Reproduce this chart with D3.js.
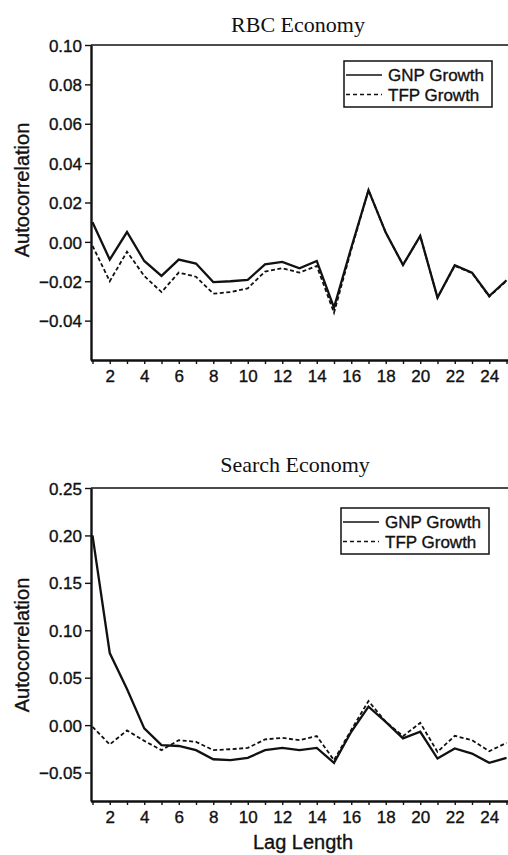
<!DOCTYPE html>
<html>
<head>
<meta charset="utf-8">
<script src="https://cdn.jsdelivr.net/npm/d3@7"></script>
<style>
  html, body { margin: 0; padding: 0; background: #fff; }
  svg { display: block; }
  .tick text { font-family: "Liberation Sans", Arial, sans-serif; font-size: 17px; fill: #111; stroke: #111; stroke-width: 0.35px; }
  .heavy { stroke: #111; stroke-width: 0.35px; }
</style>
</head>
<body>
<svg id="chart" width="508" height="855"></svg>
<script>
const lags = [1,2,3,4,5,6,7,8,9,10,11,12,13,14,15,16,17,18,19,20,21,22,23,24,25];
const lagLabels = [2,4,6,8,10,12,14,16,18,20,22,24];

const rbcGNP = [0.010,-0.009,0.005,-0.0097,-0.0173,-0.009,-0.011,-0.0204,-0.020,-0.0193,-0.0114,-0.0102,-0.0134,-0.0097,-0.0334,-0.003,0.0263,0.0047,-0.0117,0.003,-0.0283,-0.0119,-0.0156,-0.0275,-0.0195];
const rbcTFP = [-0.002,-0.020,-0.005,-0.0173,-0.0255,-0.0156,-0.0177,-0.0263,-0.0255,-0.0236,-0.0151,-0.0134,-0.0156,-0.0122,-0.036,-0.004,0.0263,0.0047,-0.0117,0.003,-0.0283,-0.0122,-0.0158,-0.0278,-0.0198];
const searchGNP = [0.200,0.076,0.038,-0.0035,-0.021,-0.022,-0.0264,-0.036,-0.037,-0.0345,-0.0264,-0.024,-0.0264,-0.024,-0.0398,-0.007,0.0194,0.0035,-0.014,-0.007,-0.0352,-0.0246,-0.030,-0.0398,-0.0345];
const searchTFP = [-0.0018,-0.0204,-0.0056,-0.0166,-0.0264,-0.0159,-0.0176,-0.0264,-0.0254,-0.024,-0.0151,-0.0134,-0.0159,-0.0116,-0.037,-0.005,0.0254,0.0035,-0.0116,0.0024,-0.0282,-0.0113,-0.0159,-0.0275,-0.0187];

const rbcTicks = [0.10,0.08,0.06,0.04,0.02,0.00,-0.02,-0.04];
const searchTicks = [0.25,0.20,0.15,0.10,0.05,0.00,-0.05];
const seriesNames = ["GNP Growth","TFP Growth"];

const svg = d3.select("#chart");
const FONT = '"Liberation Sans", Arial, sans-serif';
const SERIF = '"Liberation Serif", "Times New Roman", serif';

function panel(cfg) {
  const g = svg.append("g");
  const x = d3.scaleLinear().domain([1, 25]).range([92.5, 506.5]);
  const y = d3.scaleLinear().domain(cfg.domain).range([cfg.bottom, cfg.top]);
  const left = 91;

  g.append("text").attr("x", cfg.titleX).attr("y", cfg.titleY)
    .attr("text-anchor", "middle").attr("font-family", SERIF).attr("font-size", 22)
    .attr("fill", "#111").text(cfg.title);

  g.append("line").attr("x1", left).attr("x2", 508).attr("y1", cfg.top).attr("y2", cfg.top)
    .attr("stroke", "#111").attr("stroke-width", 1.6);

  const ya = g.append("g").attr("transform", `translate(${left},0)`)
    .call(d3.axisLeft(y).tickValues(cfg.ticks).tickFormat(d3.format(".2f")).tickSize(6).tickSizeOuter(0).tickPadding(3));
  ya.select(".domain").attr("stroke", "#111").attr("stroke-width", 2.4);
  ya.selectAll(".tick line").attr("stroke", "#111").attr("stroke-width", 1.4);
  ya.selectAll(".tick text").attr("dy", "0.36em");

  const xa = g.append("g").attr("transform", `translate(0,${cfg.bottom})`)
    .call(d3.axisBottom(x).tickValues(lags).tickFormat(d => lagLabels.includes(d) ? d : "").tickSize(4).tickSizeOuter(0));
  xa.select(".domain").attr("stroke", "#111").attr("stroke-width", 2.4)
    .attr("d", `M${left},0.5H508`);
  xa.selectAll(".tick line").attr("stroke", "#111").attr("stroke-width", 1.4);
  xa.selectAll(".tick text").attr("y", 22).attr("dy", 0);

  g.append("text").attr("class", "heavy").attr("transform", `translate(${cfg.ylabX},${cfg.ylabY}) rotate(-90)`)
    .attr("text-anchor", "middle").attr("font-family", FONT).attr("font-size", 20)
    .attr("fill", "#111").text("Autocorrelation");

  const line = d3.line().x((d, i) => x(lags[i])).y(d => y(d));
  g.append("path").datum(cfg.tfp).attr("d", line).attr("fill", "none")
    .attr("stroke", "#111").attr("stroke-width", 1.8).attr("stroke-dasharray", "4,2.5");
  g.append("path").datum(cfg.gnp).attr("d", line).attr("fill", "none")
    .attr("stroke", "#111").attr("stroke-width", 2.3);

  const L = cfg.legend;
  g.append("rect").attr("x", L.x).attr("y", L.y).attr("width", 148).attr("height", 46)
    .attr("fill", "#fff").attr("stroke", "#111").attr("stroke-width", 1.5);
  seriesNames.forEach((name, i) => {
    const by = L.y + 20 + i * 19.5;
    g.append("line").attr("x1", L.x + 2).attr("x2", L.x + 38)
      .attr("y1", by - 6).attr("y2", by - 6).attr("stroke", "#111")
      .attr("stroke-width", 1.5)
      .attr("stroke-dasharray", i === 0 ? null : "4,3");
    g.append("text").attr("class", "heavy").attr("x", L.x + 44).attr("y", by)
      .attr("font-family", FONT).attr("font-size", 17).attr("fill", "#111").text(name);
  });
}

panel({ title: "RBC Economy", titleX: 298, titleY: 32, top: 45, bottom: 360,
  domain: [-0.06, 0.10], ticks: rbcTicks, gnp: rbcGNP, tfp: rbcTFP,
  ylabX: 29, ylabY: 190, legend: { x: 344, y: 61 } });

panel({ title: "Search Economy", titleX: 295, titleY: 472, top: 488, bottom: 801,
  domain: [-0.08, 0.25], ticks: searchTicks, gnp: searchGNP, tfp: searchTFP,
  ylabX: 29, ylabY: 645, legend: { x: 341, y: 508 } });

svg.append("text").attr("class", "heavy").attr("x", 303).attr("y", 849).attr("text-anchor", "middle")
  .attr("font-family", FONT).attr("font-size", 20).attr("fill", "#111").text("Lag Length");
</script>
</body>
</html>
